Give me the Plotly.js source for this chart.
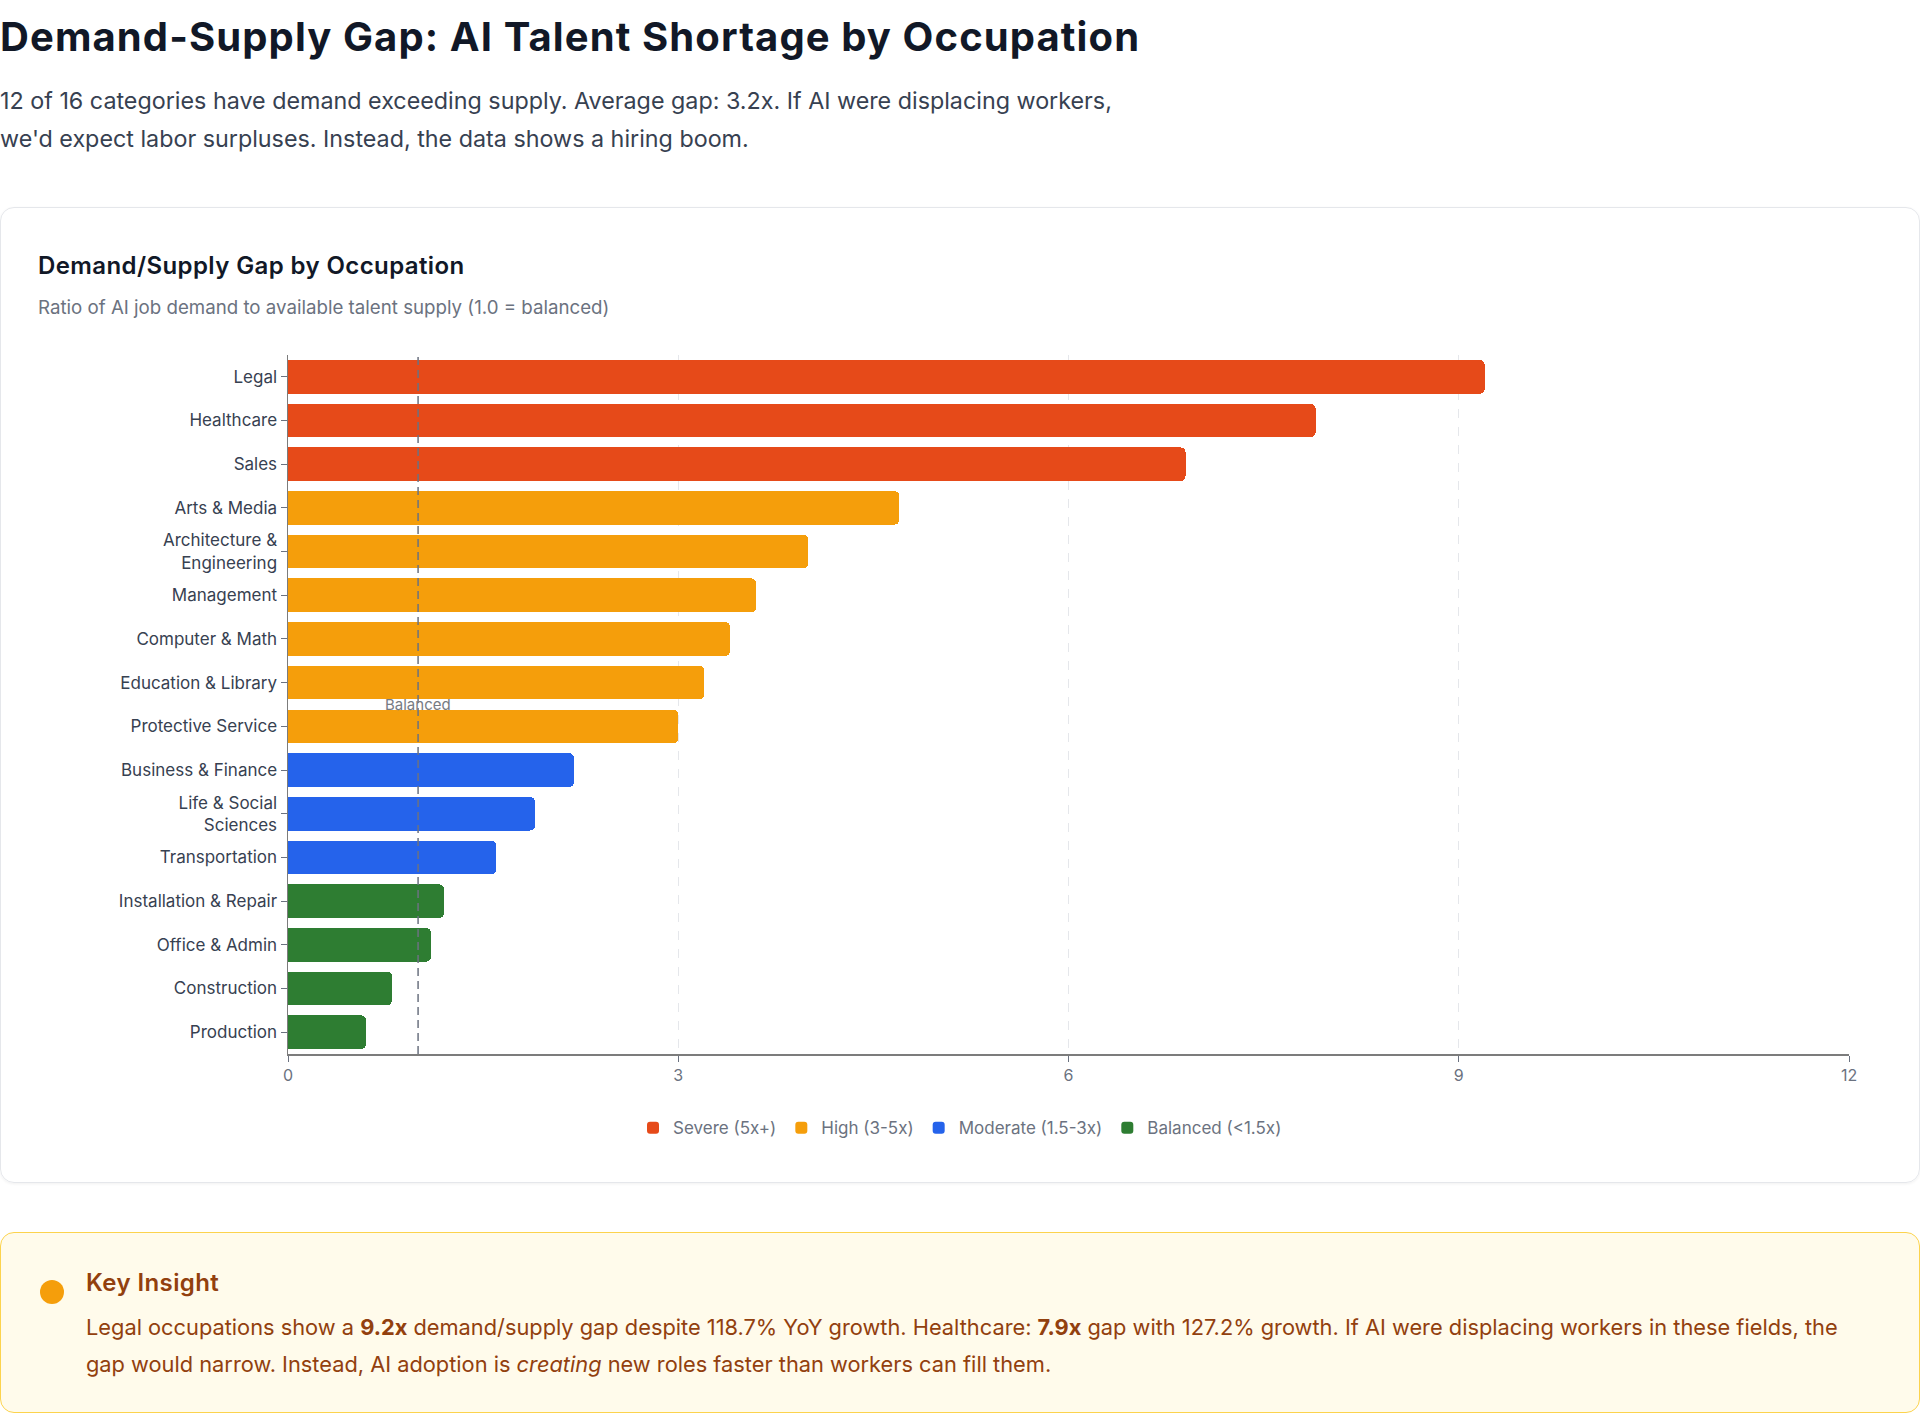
<!DOCTYPE html>
<html>
<head>
<meta charset="utf-8">
<script src="https://cdn.plot.ly/plotly-3.0.1.min.js"></script>
<style>
  body { margin: 0; width: 1920px; height: 1414px; overflow: hidden; background: #fff; font-family: Inter, "Noto Sans", sans-serif; position: relative; }
  .abs { position: absolute; }
  h1 { margin: 0; left: 0; top: 13px; font-size: 40px; line-height: 1.2; font-weight: 700; color: #111827; letter-spacing: 1.1px; white-space: nowrap; }
  .lead { margin: 0; left: 0; top: 82px; width: 1140px; font-size: 23.3px; line-height: 37.8px; color: #374151; }
  .card { left: 0; top: 207px; width: 1920px; height: 976px; box-sizing: border-box; border: 1px solid #e5e7eb; border-radius: 14px; box-shadow: 0 1px 3px rgba(0,0,0,0.06); }
  .card-title { left: 38px; top: 250px; font-size: 24px; line-height: 1.3; font-weight: 600; color: #111827; letter-spacing: 0.4px; }
  .card-sub { left: 38px; top: 295px; font-size: 18.7px; line-height: 1.4; color: #6b7280; }
  #plot { left: 38px; top: 330px; width: 1844px; height: 830px; }
  .insight { left: 0; top: 1232px; width: 1920px; height: 181px; box-sizing: border-box; background: #fffbeb; border: 1.5px solid #fcd34d; border-radius: 14px; }
  .dot { left: 40px; top: 1280px; width: 24px; height: 24px; border-radius: 50%; background: #f59e0b; }
  .insight-title { left: 86px; top: 1267px; font-size: 24px; line-height: 1.3; font-weight: 600; color: #92400e; letter-spacing: 0.4px; }
  .insight-line { left: 86px; font-size: 21.8px; line-height: 36.5px; color: #92400e; white-space: nowrap; }
</style>
</head>
<body>
<h1 class="abs">Demand-Supply Gap: AI Talent Shortage by Occupation</h1>
<p class="abs lead">12 of 16 categories have demand exceeding supply. Average gap: 3.2x. If AI were displacing workers, we'd expect labor surpluses. Instead, the data shows a hiring boom.</p>

<div class="abs card"></div>
<div class="abs card-title">Demand/Supply Gap by Occupation</div>
<div class="abs card-sub">Ratio of AI job demand to available talent supply (1.0 = balanced)</div>
<div class="abs" id="plot"></div>

<div class="abs insight"></div>
<div class="abs dot"></div>
<div class="abs insight-title">Key Insight</div>
<div class="abs insight-line" style="top:1309px">Legal occupations show a <b>9.2x</b> demand/supply gap despite 118.7% YoY growth. Healthcare: <b>7.9x</b> gap with 127.2% growth. If AI were displacing workers in these fields, the</div>
<div class="abs insight-line" style="top:1345.5px">gap would narrow. Instead, AI adoption is <i>creating</i> new roles faster than workers can fill them.</div>

<script>
// values
const occupations = ['Legal', 'Healthcare', 'Sales', 'Arts & Media', 'Architecture &<br>Engineering',
  'Management', 'Computer & Math', 'Education & Library', 'Protective Service', 'Business & Finance',
  'Life & Social<br>Sciences', 'Transportation', 'Installation & Repair', 'Office & Admin',
  'Construction', 'Production'];
const gapRatios = [9.2, 7.9, 6.9, 4.7, 4.0, 3.6, 3.4, 3.2, 3.0, 2.2, 1.9, 1.6, 1.2, 1.1, 0.8, 0.6];
const gapTiers = ['severe', 'severe', 'severe', 'high', 'high', 'high', 'high', 'high', 'high',
  'moderate', 'moderate', 'moderate', 'balanced', 'balanced', 'balanced', 'balanced'];

const tierKeys = ['severe', 'high', 'moderate', 'balanced'];
const tierLabels = ['Severe (5x+)', 'High (3-5x)', 'Moderate (1.5-3x)', 'Balanced (<1.5x)'];
const tierColors = ['#e64a19', '#f59e0b', '#2563eb', '#2e7d32'];

const xTicks = [0, 3, 6, 9, 12];
const balancedRatio = 1.0;

// one bar trace per tier so the legend gets one entry each
const traces = tierKeys.map((key, t) => {
  const idx = gapTiers.map((g, i) => g === key ? i : -1).filter(i => i >= 0);
  return {
    type: 'bar',
    orientation: 'h',
    name: tierLabels[t],
    x: idx.map(i => gapRatios[i]),
    y: idx.map(i => occupations[i]),
    marker: { color: tierColors[t], cornerradius: 5 },
    hoverinfo: 'x+y'
  };
});

const layout = {
  width: 1844,
  height: 830,
  margin: { l: 250, r: 33, t: 25, b: 106, autoexpand: false },
  paper_bgcolor: 'rgba(0,0,0,0)',
  plot_bgcolor: 'rgba(0,0,0,0)',
  font: { family: 'Inter, sans-serif', color: '#374151' },
  barmode: 'stack',
  bargap: 0.23,
  showlegend: true,
  legend: {
    orientation: 'h',
    x: 0.4305, xanchor: 'center',
    y: -0.106, yanchor: 'middle',
    font: { size: 17, color: '#6b7280' },
    itemwidth: 30,
    traceorder: 'normal'
  },
  xaxis: {
    range: [0, 12],
    tickvals: xTicks,
    ticks: 'outside', ticklen: 6, tickcolor: '#6b7280',
    tickfont: { size: 16, color: '#6b7280' },
    showline: true, linecolor: '#7c7c7c', linewidth: 1.5,
    showgrid: true, gridcolor: '#e5e7eb', griddash: 'dash', gridwidth: 1,
    zeroline: false
  },
  yaxis: {
    type: 'category',
    categoryorder: 'array',
    categoryarray: occupations,
    autorange: 'reversed',
    ticks: 'outside', ticklen: 6, tickcolor: '#6b7280',
    tickfont: { size: 17, color: '#374151' },
    showline: true, linecolor: '#7c7c7c', linewidth: 1.5,
    showgrid: false, zeroline: false
  },
  shapes: [{
    type: 'line', layer: 'above',
    xref: 'x', yref: 'paper',
    x0: balancedRatio, x1: balancedRatio, y0: 0, y1: 1,
    line: { color: '#6b7280', width: 1.5, dash: '8px,5px' }
  }],
  annotations: [{
    xref: 'x', yref: 'paper',
    x: balancedRatio, y: 0.5, yanchor: 'middle',
    text: 'Balanced', showarrow: false,
    font: { size: 15, color: '#777b83' }
  }]
};

Plotly.newPlot('plot', traces, layout, { displayModeBar: false, staticPlot: true });
</script>
</body>
</html>
